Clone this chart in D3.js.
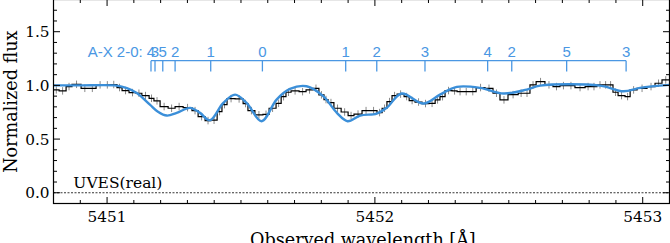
<!DOCTYPE html>
<html><head><meta charset="utf-8">
<script src="https://cdn.jsdelivr.net/npm/d3@7"></script>
<style>
html,body{margin:0;padding:0;background:#fff;overflow:hidden;}
svg{display:block;}
</style></head>
<body>
<svg id="chart" width="670" height="243"></svg>
<script>
// ---- data ----
const binEdges = [5450.800,5450.821,5450.847,5450.869,5450.903,5450.931,5450.959,5450.989,5451.013,5451.037,
5451.056,5451.082,5451.108,5451.130,5451.157,5451.175,5451.198,5451.228,5451.254,5451.284,
5451.317,5451.340,5451.366,5451.388,5451.411,5451.429,5451.448,5451.478,5451.508,5451.526,
5451.552,5451.582,5451.605,5451.631,5451.650,5451.668,5451.687,5451.717,5451.743,5451.769,
5451.791,5451.810,5451.825,5451.847,5451.874,5451.900,5451.922,5451.952,5451.982,5452.008,
5452.027,5452.045,5452.064,5452.083,5452.109,5452.128,5452.150,5452.176,5452.202,5452.225,
5452.243,5452.262,5452.288,5452.307,5452.329,5452.353,5452.378,5452.411,5452.441,5452.467,
5452.497,5452.535,5452.557,5452.579,5452.602,5452.635,5452.665,5452.691,5452.717,5452.747,
5452.785,5452.807,5452.829,5452.852,5452.871,5452.889,5452.908,5452.934,5452.953,5452.979,
5453.016,5453.046,5453.072,5453.100];
const flux = [0.958,0.949,0.989,1.010,0.973,0.973,1.005,1.005,1.008,0.980,
0.952,0.933,0.927,0.905,0.880,0.856,0.803,0.787,0.803,0.793,
0.765,0.709,0.672,0.676,0.756,0.821,0.877,0.874,0.831,0.765,
0.726,0.731,0.787,0.833,0.895,0.936,0.949,0.942,0.958,0.973,
0.912,0.868,0.840,0.787,0.752,0.719,0.733,0.765,0.765,0.747,
0.787,0.849,0.905,0.919,0.896,0.859,0.845,0.831,0.833,0.865,
0.895,0.952,0.949,0.942,0.942,0.942,0.980,0.973,0.927,0.865,
0.914,0.927,0.927,1.005,1.035,1.005,0.989,0.998,0.998,0.980,
0.989,0.989,1.005,1.005,1.005,0.936,0.905,0.896,0.958,0.973,
0.989,1.020,1.051];
const fluxErr = 0.035;

const modelWave = [5450.800,5450.899,5451.036,5451.074,5451.111,5451.160,5451.190,5451.223,5451.260,5451.310,
5451.347,5451.384,5451.434,5451.478,5451.521,5451.577,5451.633,5451.683,5451.745,5451.807,
5451.858,5451.898,5451.945,5452.007,5452.044,5452.100,5452.181,5452.243,5452.306,5452.393,
5452.480,5452.567,5452.617,5452.841,5452.928,5452.990,5453.100];
const modelFlux = [1.000,1.000,0.998,0.975,0.930,0.821,0.755,0.719,0.744,0.791,
0.744,0.675,0.837,0.914,0.837,0.666,0.868,0.967,0.992,0.900,
0.744,0.666,0.719,0.738,0.791,0.924,0.831,0.914,0.986,0.977,
0.924,0.961,0.998,0.998,0.945,0.977,1.005];

const lineWave = [5451.164,5451.179,5451.208,5451.254,5451.387,5451.580,5451.891,5452.007,5452.187,5452.421,5452.511,5452.716,5452.938];
const lineLabels = ["4","3","5","2","1","0","1","2","3","4","2","5","3"];
const bandLabel = "A-X 2-0: ";
const xTicks = [5451,5452,5453];
const yTicks = [0.0,0.5,1.0,1.5];

// ---- layout ----
const L = 53.5, R = 669.5, T = -0.5, B = 203.5;
const x = d3.scaleLinear().domain([5450.8, 5453.1]).range([L, R]);
const y = d3.scaleLinear().domain([-0.1, 1.8]).range([B, T]);
const svg = d3.select("#chart");
const serif = "'DejaVu Serif', serif";
const blue = "#3b8fd9", lblue = "#4a97e3";

svg.append("defs").append("clipPath").attr("id","clip")
  .append("rect").attr("x",L).attr("y",T).attr("width",R-L).attr("height",B-T);
const g = svg.append("g").attr("clip-path","url(#clip)");

// zero dashed line
g.append("line").attr("x1",L).attr("x2",R).attr("y1",y(0)).attr("y2",y(0))
  .attr("stroke","#000").attr("stroke-width",0.8).attr("stroke-dasharray","2,1.5");

// error bars
const centers = flux.map((f,i)=>({w:(binEdges[i]+binEdges[i+1])/2, f}));
g.selectAll("line.err").data(centers).enter().append("line").attr("class","err")
  .attr("x1",d=>x(d.w)).attr("x2",d=>x(d.w))
  .attr("y1",d=>y(d.f-fluxErr)).attr("y2",d=>y(d.f+fluxErr))
  .attr("stroke","#8a8a8a").attr("stroke-width",1);

// step histogram
const stepPts = flux.map((f,i)=>[binEdges[i],f]);
stepPts.push([binEdges[binEdges.length-1], flux[flux.length-1]]);
g.append("path").datum(stepPts)
  .attr("d", d3.line().x(d=>x(d[0])).y(d=>y(d[1])).curve(d3.curveStepAfter))
  .attr("fill","none").attr("stroke","#000").attr("stroke-width",1.2);

// model
const modelPts = modelWave.map((w,i)=>[w,modelFlux[i]]);
g.append("path").datum(modelPts)
  .attr("d", d3.line().x(d=>x(d[0])).y(d=>y(d[1])).curve(d3.curveCatmullRom.alpha(0.5)))
  .attr("fill","none").attr("stroke",blue).attr("stroke-width",2.4);

// line markers
const yBar = 1.23, yTickEnd = 1.13, yLab = 1.26;
svg.append("line").attr("x1",x(lineWave[0])).attr("x2",x(lineWave[lineWave.length-1]))
  .attr("y1",y(yBar)).attr("y2",y(yBar)).attr("stroke",lblue).attr("stroke-width",1.3);
svg.selectAll("line.mk").data(lineWave).enter().append("line").attr("class","mk")
  .attr("x1",d=>x(d)).attr("x2",d=>x(d)).attr("y1",y(yBar)).attr("y2",y(yTickEnd))
  .attr("stroke",lblue).attr("stroke-width",1.3);
svg.selectAll("text.mk").data(lineWave).enter().append("text").attr("class","mk")
  .attr("x",(d,i)=> i===0 ? x(d)+4.2 : x(d))
  .attr("y",y(yLab))
  .attr("text-anchor",(d,i)=> i===0 ? "end" : "middle")
  .attr("font-family","'Liberation Sans', Arial, sans-serif").attr("font-size",15)
  .attr("fill",lblue)
  .text((d,i)=> i===0 ? bandLabel + lineLabels[i] : lineLabels[i]);

// UVES label
svg.append("text").attr("x",x(5450.874)).attr("y",y(0.045))
  .attr("font-family",serif).attr("font-size",15.5).attr("fill","#000").text("UVES(real)");

// frame
svg.append("rect").attr("x",L).attr("y",T).attr("width",R-L).attr("height",B-T)
  .attr("fill","none").attr("stroke","#000").attr("stroke-width",1.2);

// ticks (inward, all sides)
const xMinor = d3.range(5450.8, 5453.1001, 0.1).filter(v=>!xTicks.some(t=>Math.abs(t-v)<1e-6));
const yMinor = d3.range(-0.1, 1.8001, 0.1).filter(v=>!yTicks.some(t=>Math.abs(t-v)<1e-6));
const tk = svg.append("g").attr("stroke","#000").attr("stroke-width",1);
function xt(v,len){ tk.append("line").attr("x1",x(v)).attr("x2",x(v)).attr("y1",B).attr("y2",B-len);
  tk.append("line").attr("x1",x(v)).attr("x2",x(v)).attr("y1",T).attr("y2",T+len); }
function yt(v,len){ tk.append("line").attr("x1",L).attr("x2",L+len).attr("y1",y(v)).attr("y2",y(v));
  tk.append("line").attr("x1",R).attr("x2",R-len).attr("y1",y(v)).attr("y2",y(v)); }
xTicks.forEach(v=>xt(v,6.5)); xMinor.forEach(v=>xt(v,3.5));
yTicks.forEach(v=>yt(v,6.5)); yMinor.forEach(v=>yt(v,3.5));

// tick labels
svg.selectAll("text.xt").data(xTicks).enter().append("text").attr("class","xt")
  .attr("x",d=>x(d)).attr("y",221.7).attr("text-anchor","middle")
  .attr("font-family",serif).attr("font-size",15.3).attr("fill","#000").text(d=>d);
svg.selectAll("text.yt").data(yTicks).enter().append("text").attr("class","yt")
  .attr("x",49.5).attr("y",d=>y(d)).attr("dy","0.36em").attr("text-anchor","end")
  .attr("font-family",serif).attr("font-size",15.3).attr("fill","#000").text(d=>d.toFixed(1));

// axis titles
svg.append("text").attr("transform","translate(16.5,101.7) rotate(-90)")
  .attr("text-anchor","middle").attr("font-family",serif).attr("font-size",17.6)
  .attr("fill","#000").text("Normalized flux");
svg.append("text").attr("x",x(5452)-12).attr("y",246).attr("text-anchor","middle")
  .attr("font-family",serif).attr("font-size",17.6).attr("fill","#000").text("Observed wavelength [Å]");
</script>
</body></html>
